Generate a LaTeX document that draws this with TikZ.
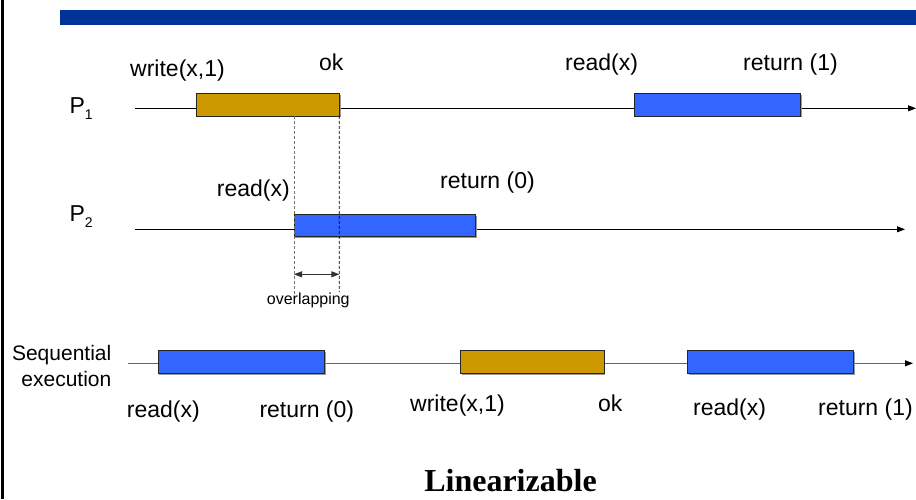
\documentclass[tikz,border=0pt]{standalone}
\usepackage{fontspec}
\setmainfont{Liberation Sans}
\newfontfamily\headfont{Liberation Serif}
\usetikzlibrary{arrows.meta,shadows}
\definecolor{opgold}{HTML}{CC9900}
\definecolor{opblue}{HTML}{3366FF}
\definecolor{barblue}{HTML}{003399}
\tikzset{
  >={Triangle[length=8pt,width=6pt]},
  lbl/.style={inner sep=0, anchor=base west, font=\fontsize{23}{27}\selectfont},
  opbox/.style={draw=black!85, line width=0.9pt, inner sep=0, outer sep=0,
    minimum height=22.6pt,
    drop shadow={shadow xshift=1.2pt, shadow yshift=-1.2pt, fill=black!40, opacity=1}},
  rbox/.style={opbox, fill=opblue},
  wbox/.style={opbox, fill=opgold},
  timeline/.style={line width=0.9pt, ->},
  guide/.style={line width=0.8pt, dash pattern=on 3pt off 2pt},
}
\newcommand{\proc}[1]{P\raisebox{-6pt}{\fontsize{14}{14}\selectfont #1}}
\begin{document}
\begin{tikzpicture}[x=1pt,y=-1pt]
\useasboundingbox (0,0) rectangle (916,499);

% frame edge and header bar
\draw[line width=3pt] (2.5,0) -- (2.5,499);
\fill[barblue] (60,10) rectangle (916,24.5);

% process timelines
\coordinate (p1a) at (135,108.3);
\coordinate (p1b) at (916,108.3);
\coordinate (p2a) at (135,229.3);
\coordinate (p2b) at (905,229.3);
\coordinate (sqa) at (128.3,363.3);
\coordinate (sqb) at (913,363.3);
\draw[timeline] (p1a) -- (p1b);
\draw[timeline] (p2a) -- (p2b);
\draw[line width=0.9pt, draw=black!60,
  -{Triangle[length=8pt,width=6pt,color=black]}] (sqa) -- (sqb);

% process names
\node[lbl] (P1) at (69.3,113.3) {\proc{1}};
\node[lbl] (P2) at (69.3,221.7) {\proc{2}};
\node[inner sep=0, anchor=east, align=right, font=\fontsize{21}{26}\selectfont]
  (seq) at (111.5,366) {Sequential\\execution};

% operations of P1
\node[wbox, minimum width=143.3pt] (w1) at (267.65,104.65) {};
\node[rbox, minimum width=166.7pt] (r1) at (717.35,104.65) {};
% operation of P2
\node[rbox, minimum width=181.7pt, minimum height=22.4pt] (r2) at (384.85,225.5) {};
% sequential order
\node[rbox, minimum width=166.3pt] (s1) at (241.15,362) {};
\node[wbox, minimum width=143.3pt] (s2) at (532.35,362) {};
\node[rbox, minimum width=166.4pt] (s3) at (770.5,362) {};

% overlap guides
\coordinate (g1) at (294,297);
\coordinate (g2) at (339.3,292);
\draw[guide, draw=black!55] (g1 |- w1.south) -- (g1);
\draw[guide] (w1.south east) -- (g2);
\coordinate (oa) at (294,274.3);
\coordinate (ob) at (339.3,274.3);
\draw[line width=0.9pt, draw=black!80, <->] (oa) -- (ob);
\node[inner sep=0, anchor=base, font=\fontsize{16}{18}\selectfont] (ovl) at (308.3,304) {overlapping};

% invocation / response labels
\node[lbl] (t1) at (130,76) {write(x,1)};
\node[lbl] (t2) at (319,70.7) {ok};
\node[lbl] (t3) at (565,70) {read(x)};
\node[lbl] (t4) at (743,70.7) {return (1)};
\node[lbl] (t5) at (216.7,196.7) {read(x)};
\node[lbl] (t6) at (440,188) {return (0)};
\node[lbl] (b1) at (126.7,417) {read(x)};
\node[lbl] (b2) at (259.3,417) {return (0)};
\node[lbl] (b3) at (410,411.7) {write(x,1)};
\node[lbl] (b4) at (598,411) {ok};
\node[lbl] (b5) at (693,415) {read(x)};
\node[lbl] (b6) at (818,415) {return (1)};

% caption
\node[inner sep=0, anchor=base, font=\headfont\bfseries\fontsize{32}{36}\selectfont]
  (title) at (510.5,491.7) {Linearizable};
\end{tikzpicture}
\end{document}
